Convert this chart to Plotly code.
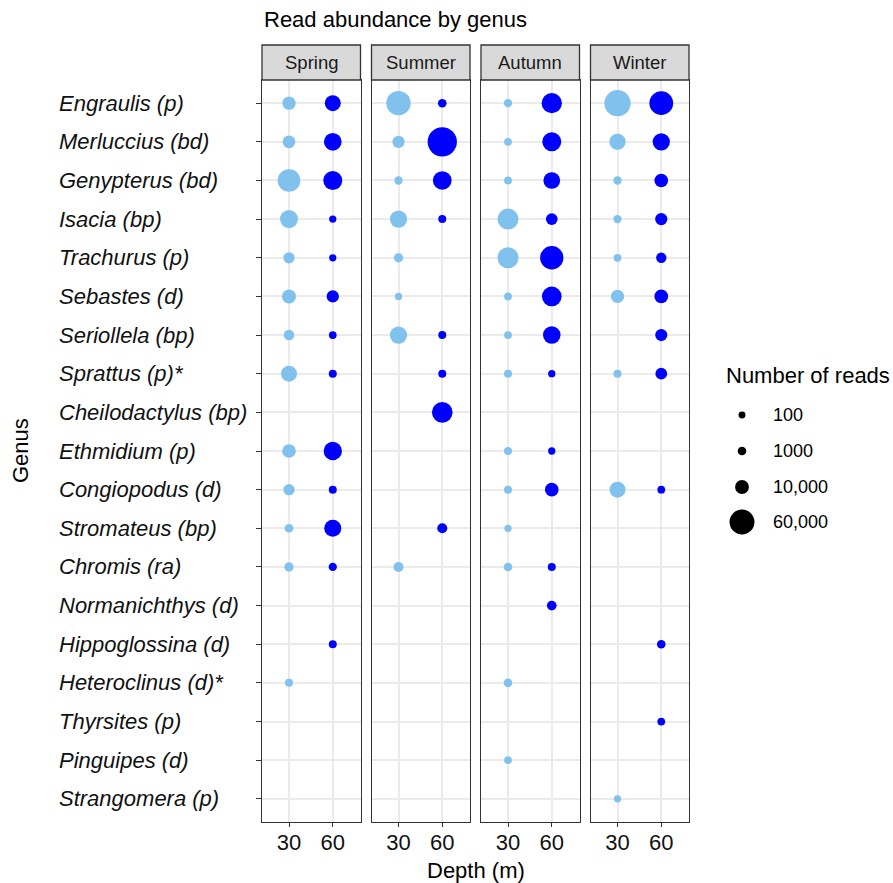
import math
import plotly.graph_objects as go

genera = [
    "Engraulis (p)", "Merluccius (bd)", "Genypterus (bd)", "Isacia (bp)",
    "Trachurus (p)", "Sebastes (d)", "Seriollela (bp)", "Sprattus (p)*",
    "Cheilodactylus (bp)", "Ethmidium (p)", "Congiopodus (d)", "Stromateus (bp)",
    "Chromis (ra)", "Normanichthys (d)", "Hippoglossina (d)", "Heteroclinus (d)*",
    "Thyrsites (p)", "Pinguipes (d)", "Strangomera (p)",
]
seasons = ["Spring", "Summer", "Autumn", "Winter"]
depths = [30, 60]
depth_ticks = [30, 60]

# Number of reads per genus (top to bottom), None = not detected
spring_30 = [8600, 7200, 46000, 24000, 4400, 10400, 3200, 16400, None, 9600,
             4400, 1000, 1600, None, None, 550, None, None, None]
spring_60 = [16400, 22500, 28000, 200, 200, 6300, 400, 550, None, 25000,
             550, 20000, 750, None, 550, None, None, None, None]
summer_30 = [55800, 6300, 750, 21000, 1600, 200, 21000, None, None, None,
             None, None, 2500, None, None, None, None, None, None]
summer_60 = [1000, 91000, 26600, 550, None, None, 550, 550, 35800, None,
             None, 2500, None, None, None, None, None, None, None]
autumn_30 = [750, 400, 400, 37300, 37300, 400, 450, 550, None, 550,
             550, 200, 1000, None, None, 1000, None, 400, None]
autumn_60 = [33900, 27900, 18800, 5200, 49800, 31000, 22000, 200, None, 200,
             9600, None, 550, 2100, None, None, None, None, None]
winter_30 = [68800, 17400, 750, 750, 400, 8600, None, 550, None, None,
             16400, None, None, None, None, None, None, None, 200]
winter_60 = [52200, 21000, 9600, 6300, 2900, 9600, 6000, 5200, None, None,
             400, None, None, None, 1000, None, 400, None, None]

legend_breaks = [100, 1000, 10000, 60000]
legend_labels = ["100", "1000", "10,000", "60,000"]

reads = {
    ("Spring", 30): spring_30, ("Spring", 60): spring_60,
    ("Summer", 30): summer_30, ("Summer", 60): summer_60,
    ("Autumn", 30): autumn_30, ("Autumn", 60): autumn_60,
    ("Winter", 30): winter_30, ("Winter", 60): winter_60,
}
colors = {30: "#80C1EE", 60: "#0000FF"}


def diam(v):
    return 6.2 + 0.0766 * math.sqrt(v)


FONT = "Liberation Sans"
W, H = 893, 883
L, R, T, B = 262, 204, 80, 61
PW, PH = W - L - R, H - T - B


def px_x(px):
    return (px - L) / PW


def px_y(py):
    return (H - B - py) / PH


gap = 11
pw = (PW - 3 * gap) / 4
domains = [[(i * (pw + gap)) / PW, (i * (pw + gap) + pw) / PW] for i in range(4)]

fig = go.Figure()
shapes = []
annotations = []

for i, s in enumerate(seasons):
    ax = "" if i == 0 else str(i + 1)
    for d in depths:
        vals = reads[(s, d)]
        xs, ys, ss = [], [], []
        for g, v in zip(genera, vals):
            if v is None:
                continue
            xs.append(d)
            ys.append(g)
            ss.append(diam(v))
        fig.add_trace(go.Scatter(
            x=xs, y=ys, mode="markers", xaxis="x" + ax, yaxis="y" + ax,
            marker=dict(size=ss, color=colors[d], line=dict(width=0), opacity=1),
            showlegend=False, hoverinfo="skip",
        ))
    xa = dict(
        domain=domains[i], range=[11.5, 79], tickvals=depth_ticks,
        ticktext=[str(t) for t in depth_ticks],
        showgrid=True, gridcolor="#EBEBEB", gridwidth=1.6, zeroline=False,
        showline=True, mirror=True, linecolor="#333333", linewidth=1.3,
        ticks="outside", ticklen=4, tickwidth=1.3, tickcolor="#333333",
        ticklabelstandoff=-4,
        tickfont=dict(family=FONT, size=22, color="#111111"),
        anchor="y" + ax, fixedrange=True,
    )
    ya = dict(
        domain=[0, 1], type="category", categoryorder="array", categoryarray=genera,
        range=[len(genera) - 0.4, -0.6],
        showgrid=True, gridcolor="#EBEBEB", gridwidth=1.6, zeroline=False,
        showline=True, mirror=True, linecolor="#333333", linewidth=1.3,
        anchor="x" + ax, fixedrange=True, showticklabels=False,
    )
    if i == 0:
        ya.update(ticks="outside", ticklen=5, tickwidth=1.3, tickcolor="#333333")
    else:
        ya.update(ticks="")
    fig.update_layout({"xaxis" + ax: xa, "yaxis" + ax: ya})

    # strip
    shapes.append(dict(type="rect", xref="paper", yref="paper",
                       x0=domains[i][0], x1=domains[i][1], y0=1.0, y1=px_y(45),
                       fillcolor="#D9D9D9", line=dict(color="#333333", width=1.3),
                       layer="above"))
    annotations.append(dict(text=s, xref="paper", yref="paper",
                            x=(domains[i][0] + domains[i][1]) / 2, y=px_y(62.5),
                            xanchor="center", yanchor="middle", showarrow=False,
                            font=dict(family=FONT, size=18.5, color="#1A1A1A")))

# left-aligned genus labels (ggplot hjust = 0)
for k, g in enumerate(genera):
    annotations.append(dict(text=g, xref="paper", yref="y", x=px_x(57), y=k,
                            xanchor="left", yanchor="middle", showarrow=False,
                            font=dict(family=FONT, size=22, color="#111111",
                                      style="italic")))

# titles
annotations.append(dict(text="Read abundance by genus", xref="paper", yref="paper",
                        x=0, y=px_y(20), xanchor="left", yanchor="middle",
                        showarrow=False, font=dict(family=FONT, size=22, color="black")))
annotations.append(dict(text="Depth (m)", xref="paper", yref="paper",
                        x=0.5, y=px_y(870), xanchor="center", yanchor="middle",
                        showarrow=False, font=dict(family=FONT, size=22, color="black")))
annotations.append(dict(text="Genus", xref="paper", yref="paper",
                        x=px_x(20), y=0.5, xanchor="center", yanchor="middle",
                        textangle=-90, showarrow=False,
                        font=dict(family=FONT, size=22, color="black")))

# size legend
annotations.append(dict(text="Number of reads", xref="paper", yref="paper",
                        x=px_x(724), y=px_y(375), xanchor="left", yanchor="middle",
                        showarrow=False, font=dict(family=FONT, size=22, color="black")))
leg_y = [415, 451, 487, 522]
for b, lab, yy in zip(legend_breaks, legend_labels, leg_y):
    r = diam(b) / 2
    shapes.append(dict(type="circle", xref="paper", yref="paper",
                       xsizemode="pixel", ysizemode="pixel",
                       xanchor=px_x(742), yanchor=px_y(yy),
                       x0=-r, x1=r, y0=-r, y1=r,
                       fillcolor="black", line=dict(width=0)))
    annotations.append(dict(text=lab, xref="paper", yref="paper",
                            x=px_x(771), y=px_y(yy), xanchor="left", yanchor="middle",
                            showarrow=False, font=dict(family=FONT, size=18, color="black")))

fig.update_layout(
    width=W, height=H, margin=dict(l=L, r=R, t=T, b=B),
    paper_bgcolor="white", plot_bgcolor="white",
    shapes=shapes, annotations=annotations, showlegend=False,
    font=dict(family=FONT),
)

fig.write_html("out.html")
